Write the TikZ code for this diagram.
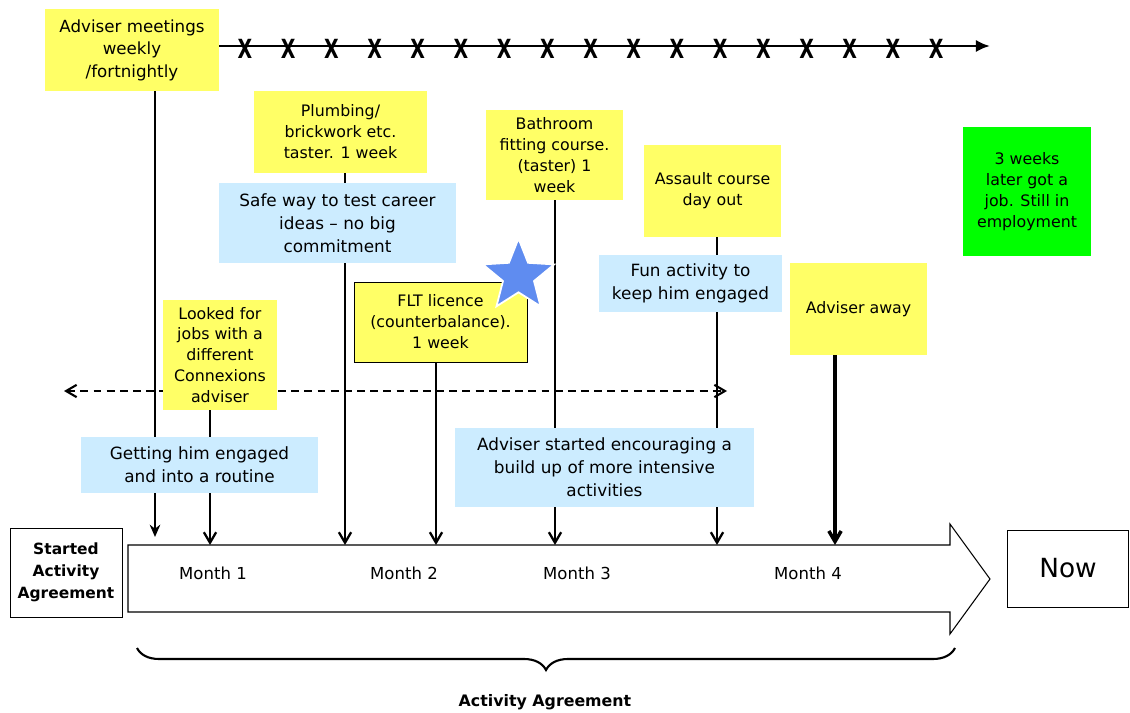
\documentclass[tikz,border=0pt]{standalone}
\usepackage{fontspec}
\setmainfont{DejaVu Sans}
\usepackage{graphicx}
\usetikzlibrary{positioning}
\usetikzlibrary{arrows.meta,shapes.geometric,decorations.pathreplacing}
\definecolor{notey}{RGB}{255,255,102}
\definecolor{noteb}{RGB}{204,236,255}
\definecolor{noteg}{RGB}{0,255,0}
\definecolor{starb}{RGB}{95,140,240}
\pgfdeclarelayer{bg}
\pgfsetlayers{bg,main}

\begin{document}
\begin{tikzpicture}[x=0.02cm,y=-0.02cm,
   note/.style={rectangle,fill=notey,inner sep=0pt,align=center,font=\fontsize{9}{11.9}\selectfont},
   tip/.style={rectangle,fill=noteb,inner sep=0pt,align=center,font=\fontsize{9.6}{13}\selectfont},
   lbl/.style={font=\fontsize{9.4}{11}\selectfont},
   link/.style={line width=1.3pt,-{Straight Barb[length=6pt,width=7pt]}},
   xmark/.style={font=\bfseries\fontsize{15}{16}\selectfont,inner sep=0pt}]
   \useasboundingbox (0,0) rectangle (1130,713);

   % notes
   \node[note,minimum width=3.48cm,minimum height=1.64cm,font=\fontsize{9.5}{12.75}\selectfont] (meet) at (132,50) {Adviser meetings\\weekly\\/fortnightly};
   \node[note,minimum width=3.46cm,minimum height=1.64cm] (plumb) at (340.5,132) {Plumbing/\\brickwork etc.\\taster. 1 week};
   \node[tip,minimum width=4.74cm,minimum height=1.6cm] (safe) at (337.5,223) {Safe way to test career\\ideas -- no big\\commitment};
   \node[note,minimum width=2.74cm,minimum height=1.8cm] (bath) at (554.5,155) {Bathroom\\fitting course.\\(taster) 1\\week};
   \node[note,minimum width=2.74cm,minimum height=1.84cm] (assault) at (712.5,191) {Assault course\\day out};
   \node[tip,minimum width=3.66cm,minimum height=1.14cm] (fun) at (690.5,283.5) {Fun activity to\\keep him engaged};
   \node[note,minimum width=2.74cm,minimum height=1.84cm] (away) at (858.5,309) {Adviser away};
   \node[note,fill=noteg,minimum width=2.56cm,minimum height=2.58cm] (job) at (1027,191.5) {3 weeks\\later got a\\job. Still in\\employment};
   \node[note,draw,minimum width=3.46cm,minimum height=1.6cm] (flt) at (440.5,322) {FLT licence\\(counterbalance).\\1 week};
   \node[note,minimum width=2.28cm,minimum height=2.2cm] (looked) at (220,355) {Looked for\\jobs with a\\different\\Connexions\\adviser};
   \node[tip,minimum width=4.74cm,minimum height=1.12cm] (routine) at (199.5,465) {Getting him engaged\\and into a routine};
   \node[tip,minimum width=5.98cm,minimum height=1.58cm] (build) at (604.5,467.5) {Adviser started encouraging a\\build up of more intensive\\activities};
   \node[star,star points=5,star point ratio=2.3,fill=starb,draw=white,line width=1pt,minimum size=1.5cm,inner sep=0pt] (flag) at (518.5,276) {};

   % timeline
   \draw[line width=0.6pt] (128,545) -- (950,545) -- (950,524) -- (990,579) -- (950,634) -- (950,612) -- (128,612) -- cycle;
   \node[draw,minimum width=2.24cm,minimum height=1.78cm,inner sep=0pt,align=center,font=\bfseries\fontsize{8.8}{12.5}\selectfont] (start) at (66,572.5) {Started\\Activity\\Agreement};
   \node[draw,minimum width=2.42cm,minimum height=1.54cm,font=\fontsize{15}{18}\selectfont] (now) at (1068,568.5) {Now};
   \node[lbl] (m1) at (213,573) {Month 1};
   \node[lbl] (m2) at (404,573) {Month 2};
   \node[lbl] (m3) at (577,573) {Month 3};
   \node[lbl] (m4) at (808,573) {Month 4};
   \coordinate (a0) at (155,537);
   \coordinate (a1) at (210,545);
   \coordinate (a2) at (345,545);
   \coordinate (a3) at (436,545);
   \coordinate (a4) at (555,545);
   \coordinate (a5) at (717,545);
   \coordinate (a6) at (835,545);

   % meetings line
   \coordinate (xend) at (990,46);
   \draw[line width=1.7pt,-{Latex[length=8pt,width=7pt]}] (meet.east |- xend) -- (xend);
   \foreach \i in {0,...,16}
      \node[xmark] (x\i) at (245+43.2*\i,49) {\scalebox{0.72}[1]{X}};

   \begin{pgfonlayer}{bg}
   \draw[link,-{Stealth[length=7pt,width=6pt]}] (meet.south -| a0) -- (a0);
   \draw[link] (looked.south -| a1) -- (a1);
   \draw[link] (plumb.south -| a2) -- (a2);
   \draw[link] (flt.south -| a3) -- (a3);
   \draw[link] (bath.south -| a4) -- (a4);
   \draw[link] (assault.south -| a5) -- (a5);
   \draw[link,line width=2pt] (away.south -| a6) -- (a6);
   \coordinate (dl) at (64,391);
   \coordinate (dr) at (727,391);
   \draw[line width=1.2pt,dash pattern=on 4.5pt off 3pt,{Straight Barb[length=6pt,width=7pt]}-{Straight Barb[length=6pt,width=7pt]}] (dl) -- (dr);
   \end{pgfonlayer}

   % brace
   \draw[decorate,decoration={brace,mirror,amplitude=0.44cm},line width=1.2pt] (137,648) -- (955,648);
   \node[font=\bfseries\fontsize{9}{11}\selectfont] (aa) at (545,702) {Activity Agreement};
\end{tikzpicture}
\end{document}
